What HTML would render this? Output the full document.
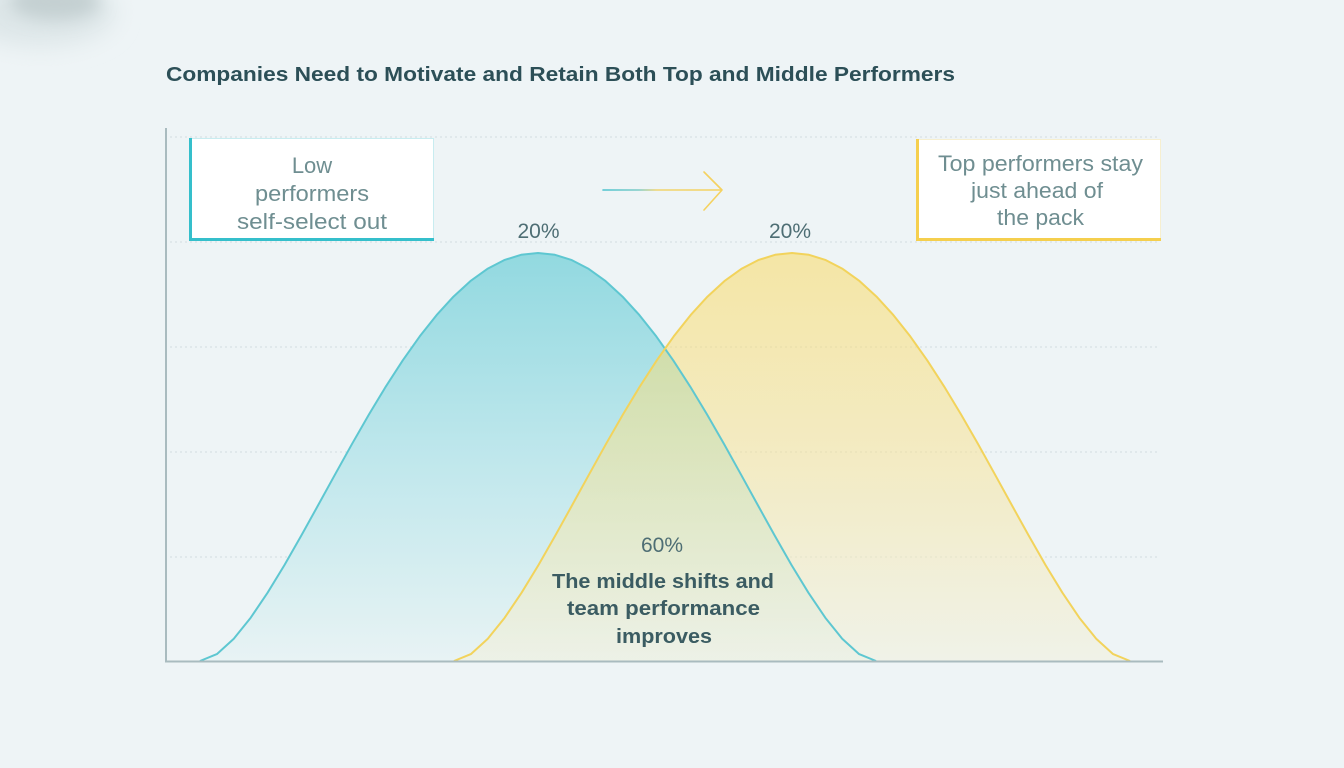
<!DOCTYPE html>
<html>
<head>
<meta charset="utf-8">
<style>
  html,body{margin:0;padding:0;background:#eef4f6;}
  body{width:1344px;height:768px;overflow:hidden;}
  svg{display:block;}
  text{font-family:"Liberation Sans", sans-serif;}
</style>
</head>
<body>
<svg width="1344" height="768" viewBox="0 0 1344 768" xmlns="http://www.w3.org/2000/svg">
  <defs>
    <filter id="blur" x="-50%" y="-50%" width="200%" height="200%">
      <feGaussianBlur stdDeviation="8"/>
    </filter>
    <filter id="blur2" x="-50%" y="-50%" width="200%" height="200%">
      <feGaussianBlur stdDeviation="12"/>
    </filter>
    <linearGradient id="gBlue" gradientUnits="userSpaceOnUse" x1="0" y1="253" x2="0" y2="661">
      <stop offset="0" stop-color="#92d9e0"/>
      <stop offset="0.5" stop-color="#bfe7ec"/>
      <stop offset="1" stop-color="#e8f3f4"/>
    </linearGradient>
    <linearGradient id="gYel" gradientUnits="userSpaceOnUse" x1="0" y1="253" x2="0" y2="661">
      <stop offset="0" stop-color="#fad856"/>
      <stop offset="0.5" stop-color="#f8e290"/>
      <stop offset="1" stop-color="#f2f0da"/>
    </linearGradient>
    <linearGradient id="gArrow" gradientUnits="userSpaceOnUse" x1="603" y1="0" x2="722" y2="0">
      <stop offset="0" stop-color="#4cc3cf"/>
      <stop offset="0.3" stop-color="#7ccbc6"/>
      <stop offset="0.45" stop-color="#f0d46e"/>
      <stop offset="1" stop-color="#f5d25f"/>
    </linearGradient>
    <path id="bell" d="M200,661 L216.9,654.1 L233.8,638.7 L250.7,617.7 L267.6,592.7 L284.5,565.0 L301.4,535.4 L318.3,504.9 L335.2,474.2 L352.1,443.8 L369,414.4 L385.9,386.4 L402.8,360.3 L419.7,336.4 L436.6,315.1 L453.5,296.6 L470.4,281.1 L487.3,268.9 L504.2,260.1 L521.1,254.8 L538,253 L554.9,254.8 L571.8,260.1 L588.7,268.9 L605.6,281.1 L622.5,296.6 L639.4,315.1 L656.3,336.4 L673.2,360.3 L690.1,386.4 L707,414.4 L723.9,443.8 L740.8,474.2 L757.7,504.9 L774.6,535.4 L791.5,565.0 L808.4,592.7 L825.3,617.7 L842.2,638.7 L859.1,654.1 L876,661"/>
  </defs>

  <rect x="0" y="0" width="1344" height="768" fill="#eef4f6"/>

  <!-- top-left blurred blob -->
  <ellipse cx="40" cy="12" rx="75" ry="34" fill="#dde6e8" filter="url(#blur2)"/>
  <ellipse cx="55" cy="2" rx="45" ry="18" fill="#c4d0d2" filter="url(#blur)"/>

  <!-- title -->
  <text x="166" y="81" font-size="20" font-weight="bold" fill="#2c4f57" textLength="789" lengthAdjust="spacingAndGlyphs">Companies Need to Motivate and Retain Both Top and Middle Performers</text>

  <!-- gridlines -->
  <g stroke="#d3dde0" stroke-width="1" stroke-dasharray="2,3">
    <line x1="170" y1="137" x2="1160" y2="137"/>
    <line x1="170" y1="242" x2="1160" y2="242"/>
    <line x1="170" y1="347" x2="1160" y2="347"/>
    <line x1="170" y1="452" x2="1160" y2="452"/>
    <line x1="170" y1="557" x2="1160" y2="557"/>
  </g>

  <!-- fills -->
  <use href="#bell" fill="url(#gBlue)" stroke="none"/>
  <use href="#bell" transform="translate(254,0)" fill="url(#gYel)" fill-opacity="0.5" stroke="none"/>

  <!-- strokes -->
  <use href="#bell" fill="none" stroke="#5ec7d1" stroke-width="2" stroke-linejoin="round"/>
  <use href="#bell" transform="translate(254,0)" fill="none" stroke="#f2d35c" stroke-width="2" stroke-linejoin="round"/>

  <!-- axes -->
  <line x1="166" y1="128" x2="166" y2="662" stroke="#a9bbbf" stroke-width="2"/>
  <line x1="165" y1="661.5" x2="1163" y2="661.5" stroke="#a9bbbf" stroke-width="2"/>

  <!-- left box -->
  <rect x="189.5" y="138.5" width="244" height="102" fill="#ffffff" stroke="#c8ecf0" stroke-width="1"/>
  <rect x="189" y="138" width="3" height="103" fill="#35bfcb"/>
  <rect x="189" y="238" width="245" height="3" fill="#35bfcb"/>
  <g font-size="22" fill="#6f8e91" text-anchor="middle">
    <text x="312" y="173">Low</text>
    <text x="312" y="201" textLength="114" lengthAdjust="spacingAndGlyphs">performers</text>
    <text x="312" y="229" textLength="150" lengthAdjust="spacingAndGlyphs">self-select out</text>
  </g>

  <!-- right box -->
  <rect x="916.5" y="139.5" width="244" height="101" fill="#ffffff" stroke="#f6efd0" stroke-width="1"/>
  <rect x="916" y="139" width="3" height="102" fill="#f5cf4e"/>
  <rect x="916" y="238" width="245" height="3" fill="#f5cf4e"/>
  <g font-size="22" fill="#6f8e91" text-anchor="middle">
    <text x="1040.5" y="171" textLength="205" lengthAdjust="spacingAndGlyphs">Top performers stay</text>
    <text x="1037" y="198" textLength="132" lengthAdjust="spacingAndGlyphs">just ahead of</text>
    <text x="1040.5" y="225" textLength="87" lengthAdjust="spacingAndGlyphs">the pack</text>
  </g>

  <!-- arrow -->
  <line x1="603" y1="190" x2="721" y2="190" stroke="url(#gArrow)" stroke-width="1.6" stroke-linecap="round"/>
  <polyline points="704,172 722,190 704,210" fill="none" stroke="#f5d25f" stroke-width="1.6" stroke-linecap="round" stroke-linejoin="round"/>

  <!-- percent labels -->
  <g font-size="21" fill="#4e6e74" text-anchor="middle">
    <text x="538.5" y="238">20%</text>
    <text x="790" y="238">20%</text>
  </g>
  <text x="662" y="552" font-size="21" fill="#4e6e74" text-anchor="middle">60%</text>

  <!-- middle text -->
  <g font-size="20" font-weight="bold" fill="#3b5c62" text-anchor="middle">
    <text x="663" y="588" textLength="222" lengthAdjust="spacingAndGlyphs">The middle shifts and</text>
    <text x="663.5" y="615" textLength="193" lengthAdjust="spacingAndGlyphs">team performance</text>
    <text x="664" y="643" textLength="96" lengthAdjust="spacingAndGlyphs">improves</text>
  </g>
</svg>
</body>
</html>
